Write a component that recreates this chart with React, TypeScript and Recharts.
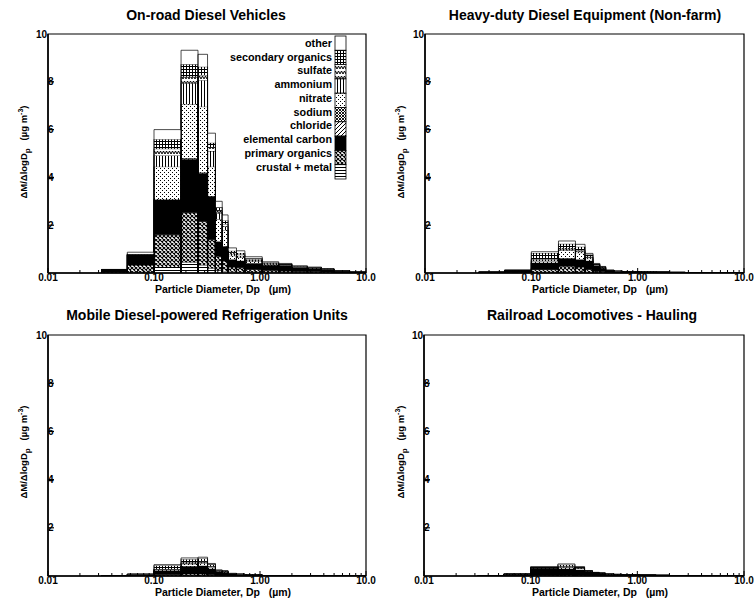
import React from 'react';
import { ComposedChart, Area, XAxis, YAxis, Legend, ReferenceArea } from 'recharts';

// particle-size bin edges (µm)
const binEdges = [0.032, 0.056, 0.1, 0.18, 0.26, 0.32, 0.38, 0.44, 0.5, 0.6, 0.72, 1.05, 1.5, 2.0, 2.8, 3.8, 5.0, 7.0, 10.0];

// stacking order, bottom to top
const componentKeys = ['crustal', 'primaryOrg', 'ec', 'chloride', 'sodium', 'nitrate', 'ammonium', 'sulfate', 'secondaryOrg', 'other'];
const componentLabels = ['crustal + metal', 'primary organics', 'elemental carbon', 'chloride', 'sodium', 'nitrate', 'ammonium', 'sulfate', 'secondary organics', 'other'];

const xMajorTicks = [0.01, 0.1, 1, 10];
const xMajorLabels = ['0.01', '0.10', '1.00', '10.0'];
const xMinorTicks = [0.02, 0.03, 0.04, 0.05, 0.06, 0.07, 0.08, 0.09, 0.2, 0.3, 0.4, 0.5, 0.6, 0.7, 0.8, 0.9, 2, 3, 4, 5, 6, 7, 8, 9];
const yTicks = [2, 4, 6, 8, 10];

const panelTitles = [
  'On-road Diesel Vehicles',
  'Heavy-duty Diesel Equipment (Non-farm)',
  'Mobile Diesel-powered Refrigeration Units',
  'Railroad Locomotives - Hauling',
];

// each row: one bin; values per component (crustal, primary org, EC, chloride, sodium, nitrate, ammonium, sulfate, secondary org, other)
const onRoadBins = [
  [0.005, 0.025, 0.10, 0.002, 0.002, 0.004, 0.002, 0.002, 0.003, 0.005],
  [0.03, 0.30, 0.42, 0.005, 0.005, 0.01, 0.01, 0.01, 0.01, 0.07],
  [0.25, 1.35, 1.45, 0.02, 0.03, 1.35, 0.47, 0.28, 0.40, 0.40],
  [0.45, 2.07, 2.24, 0.02, 0.02, 2.27, 0.87, 0.27, 0.52, 0.59],
  [0.33, 1.82, 2.02, 0.02, 0.02, 2.75, 1.11, 0.21, 0.35, 0.52],
  [0.20, 1.20, 1.80, 0.01, 0.01, 1.23, 0.65, 0.15, 0.20, 0.40],
  [0.12, 0.58, 0.60, 0.01, 0.01, 0.93, 0.25, 0.10, 0.15, 0.25],
  [0.08, 0.42, 0.60, 0.01, 0.01, 0.68, 0.15, 0.10, 0.15, 0.23],
  [0.05, 0.20, 0.30, 0.01, 0.01, 0.15, 0.08, 0.06, 0.07, 0.12],
  [0.04, 0.18, 0.28, 0.005, 0.005, 0.14, 0.07, 0.05, 0.07, 0.09],
  [0.03, 0.12, 0.25, 0.005, 0.005, 0.07, 0.06, 0.04, 0.04, 0.06],
  [0.03, 0.07, 0.22, 0.005, 0.005, 0.03, 0.03, 0.02, 0.03, 0.03],
  [0.02, 0.06, 0.22, 0.005, 0.005, 0.02, 0.02, 0.01, 0.02, 0.02],
  [0.02, 0.04, 0.16, 0.005, 0.005, 0.02, 0.01, 0.01, 0.015, 0.015],
  [0.015, 0.035, 0.13, 0.005, 0.005, 0.015, 0.01, 0.01, 0.01, 0.01],
  [0.01, 0.03, 0.09, 0.005, 0.005, 0.01, 0.01, 0.005, 0.01, 0.01],
  [0.01, 0.01, 0.05, 0.002, 0.002, 0.006, 0.005, 0.003, 0.005, 0.007],
  [0.005, 0.005, 0.025, 0.001, 0.001, 0.003, 0.003, 0.002, 0.002, 0.003],
];

const heavyDutyBins = [
  [0.001, 0.004, 0.025, 0, 0, 0.003, 0.002, 0.001, 0.002, 0.002],
  [0.005, 0.015, 0.08, 0.001, 0.001, 0.005, 0.003, 0.002, 0.005, 0.003],
  [0.02, 0.12, 0.28, 0.005, 0.005, 0.07, 0.05, 0.03, 0.26, 0.05],
  [0.03, 0.25, 0.32, 0.01, 0.01, 0.33, 0.05, 0.05, 0.17, 0.12],
  [0.03, 0.22, 0.30, 0.01, 0.01, 0.28, 0.05, 0.05, 0.15, 0.10],
  [0.02, 0.13, 0.35, 0.005, 0.005, 0.09, 0.05, 0.03, 0.09, 0.05],
  [0.01, 0.06, 0.23, 0.002, 0.002, 0.026, 0.02, 0.01, 0.02, 0.02],
  [0.01, 0.04, 0.15, 0.002, 0.002, 0.02, 0.015, 0.01, 0.015, 0.01],
  [0.005, 0.015, 0.07, 0.001, 0.001, 0.008, 0.005, 0.005, 0.005, 0.005],
  [0.004, 0.011, 0.045, 0.001, 0.001, 0.005, 0.004, 0.003, 0.003, 0.003],
  [0.003, 0.008, 0.035, 0.001, 0.001, 0.004, 0.002, 0.002, 0.002, 0.002],
  [0.003, 0.007, 0.027, 0.001, 0.001, 0.003, 0.002, 0.002, 0.002, 0.002],
  [0.002, 0.006, 0.022, 0, 0, 0.003, 0.002, 0.002, 0.002, 0.001],
  [0.002, 0.004, 0.016, 0, 0, 0.002, 0.002, 0.001, 0.002, 0.001],
  [0.001, 0.003, 0.01, 0, 0, 0.002, 0.001, 0.001, 0.001, 0.001],
  [0.001, 0.002, 0.008, 0, 0, 0.001, 0.001, 0.001, 0.001, 0],
  [0.001, 0.001, 0.005, 0, 0, 0.001, 0.001, 0, 0.001, 0],
  [0, 0.001, 0.003, 0, 0, 0, 0, 0, 0.001, 0],
];

const refrigerationBins = [
  [0, 0.001, 0.007, 0, 0, 0, 0, 0, 0.001, 0.001],
  [0.002, 0.008, 0.05, 0, 0, 0.005, 0.003, 0.002, 0.007, 0.003],
  [0.01, 0.04, 0.17, 0.002, 0.002, 0.046, 0.01, 0.01, 0.15, 0.03],
  [0.01, 0.07, 0.32, 0.002, 0.002, 0.096, 0.03, 0.03, 0.14, 0.05],
  [0.01, 0.07, 0.34, 0.002, 0.002, 0.106, 0.04, 0.03, 0.13, 0.05],
  [0.01, 0.04, 0.25, 0.002, 0.002, 0.066, 0.03, 0.02, 0.07, 0.03],
  [0.005, 0.025, 0.14, 0.001, 0.001, 0.028, 0.01, 0.01, 0.02, 0.01],
  [0.005, 0.02, 0.13, 0.001, 0.001, 0.023, 0.01, 0.01, 0.01, 0.01],
  [0.003, 0.01, 0.07, 0.001, 0.001, 0.008, 0.005, 0.004, 0.004, 0.004],
  [0.002, 0.008, 0.05, 0, 0, 0.006, 0.004, 0.003, 0.004, 0.003],
  [0.002, 0.005, 0.03, 0, 0, 0.004, 0.003, 0.002, 0.002, 0.002],
  [0.001, 0.002, 0.012, 0, 0, 0.002, 0.001, 0.001, 0.001, 0],
  [0.001, 0.002, 0.008, 0, 0, 0.001, 0.001, 0.001, 0.001, 0],
  [0.001, 0.001, 0.005, 0, 0, 0.001, 0.001, 0, 0.001, 0],
  [0, 0.001, 0.003, 0, 0, 0, 0, 0, 0.001, 0],
  [0, 0.001, 0.003, 0, 0, 0, 0, 0, 0.001, 0],
  [0, 0.001, 0.003, 0, 0, 0, 0, 0, 0.001, 0],
  [0, 0.001, 0.003, 0, 0, 0, 0, 0, 0.001, 0],
];

const railroadBins = [
  [0, 0.001, 0.008, 0, 0, 0, 0, 0, 0.001, 0],
  [0.001, 0.005, 0.065, 0, 0, 0.002, 0.002, 0.001, 0.003, 0.001],
  [0.005, 0.025, 0.29, 0.002, 0.002, 0.006, 0.01, 0.01, 0.02, 0.02],
  [0.005, 0.035, 0.26, 0.002, 0.002, 0.056, 0.02, 0.02, 0.07, 0.03],
  [0.005, 0.025, 0.22, 0.002, 0.002, 0.046, 0.02, 0.02, 0.03, 0.02],
  [0.004, 0.016, 0.16, 0.001, 0.001, 0.013, 0.008, 0.007, 0.006, 0.004],
  [0.003, 0.012, 0.11, 0.001, 0.001, 0.008, 0.005, 0.004, 0.003, 0.003],
  [0.003, 0.01, 0.095, 0.001, 0.001, 0.007, 0.004, 0.003, 0.003, 0.003],
  [0.002, 0.006, 0.06, 0, 0, 0.004, 0.003, 0.002, 0.002, 0.001],
  [0.002, 0.005, 0.052, 0, 0, 0.003, 0.002, 0.002, 0.002, 0.002],
  [0.002, 0.004, 0.045, 0, 0, 0.003, 0.002, 0.001, 0.002, 0.001],
  [0.001, 0.003, 0.03, 0, 0, 0.002, 0.001, 0.001, 0.001, 0.001],
  [0.001, 0.002, 0.022, 0, 0, 0.002, 0.001, 0.001, 0.001, 0],
  [0.001, 0.001, 0.01, 0, 0, 0.001, 0.001, 0, 0.001, 0],
  [0, 0.001, 0.003, 0, 0, 0, 0, 0, 0.001, 0],
  [0, 0.001, 0.003, 0, 0, 0, 0, 0, 0.001, 0],
  [0, 0.001, 0.003, 0, 0, 0, 0, 0, 0.001, 0],
  [0, 0.001, 0.003, 0, 0, 0, 0, 0, 0.001, 0],
];

// Build step rows: for each bin a zero point and a value point at its left edge, closed at the last edge.
function buildRows(bins: number[][]) {
  const rows: any[] = [];
  const zeroRow = (dp: number) => {
    const r: any = { dp };
    componentKeys.forEach((k) => (r[k] = 0));
    return r;
  };
  bins.forEach((vals, i) => {
    rows.push(zeroRow(binEdges[i]));
    const r: any = { dp: binEdges[i] };
    componentKeys.forEach((k, j) => (r[k] = vals[j]));
    rows.push(r);
  });
  rows.push(zeroRow(binEdges[bins.length]));
  return rows;
}

const FONT = '"Liberation Sans", Arial, Helvetica, sans-serif';

const XTick = (props: any) => {
  const { x, y, payload } = props;
  const v = payload.value;
  const mi = xMajorTicks.findIndex((m) => Math.abs(m - v) < 1e-9);
  const major = mi >= 0;
  return (
    <g>
      <line x1={x} x2={x} y1={y} y2={y - (major ? 5 : 3)} stroke="#000" strokeWidth={1} />
      {major && (
        <text x={x} y={y + 8} textAnchor="middle" fontSize={10} fontWeight="bold" fontFamily={FONT} fill="#000">
          {xMajorLabels[mi]}
        </text>
      )}
    </g>
  );
};

const YTick = (props: any) => {
  const { x, y, payload } = props;
  const v = payload.value;
  return (
    <g>
      {v < 10 && <line x1={x} x2={x + 6} y1={y} y2={y} stroke="#000" strokeWidth={1.2} />}
      <text x={v >= 10 ? x - 1 : x + 5.5} y={y + 3.5} textAnchor="end" fontSize={10} fontWeight="bold" fontFamily={FONT} fill="#000">
        {v}
      </text>
    </g>
  );
};

const renderLegend = () => {
  const order = [...componentKeys].reverse();
  const labels = [...componentLabels].reverse();
  return (
    <svg width={134} height={148} style={{ display: 'block' }}>
      {order.map((k, i) => (
        <g key={k}>
          <rect x={121} y={1 + i * 14.3} width={11} height={14.3} fill={`url(#pat-${k})`} stroke="#000" strokeWidth={0.8} />
          <text x={118} y={11.8 + i * 13.75} textAnchor="end" fontSize={10.8} fontWeight="bold" fontFamily={FONT} fill="#000">
            {labels[i]}
          </text>
        </g>
      ))}
    </svg>
  );
};

type PanelProps = {
  title: string;
  bins: number[][];
  left: number;
  top: number;
  plotLeft: number;
  plotRight: number;
  plotTop: number;
  plotBottom: number;
  titleX: number;
  showLegend?: boolean;
};

const Panel = ({ title, bins, left, top, plotLeft, plotRight, plotTop, plotBottom, titleX, showLegend }: PanelProps) => {
  const rows = buildRows(bins);
  const W = 377;
  const H = 300;
  return (
    <div style={{ position: 'absolute', left, top, width: W, height: H }}>
      <ComposedChart width={W} height={H} data={rows} margin={{ top: plotTop, right: W - plotRight, left: 0, bottom: 0 }}>
        <XAxis
          dataKey="dp"
          type="number"
          scale="log"
          domain={[0.01, 10]}
          allowDataOverflow
          ticks={[...xMajorTicks, ...xMinorTicks]}
          interval={0}
          tickSize={0}
          tickMargin={0}
          tickLine={false}
          height={H - plotBottom}
          axisLine={{ stroke: '#000', strokeWidth: 1.5 }}
          tick={<XTick />}
        />
        <YAxis
          type="number"
          domain={[0, 10]}
          allowDataOverflow
          ticks={yTicks}
          interval={0}
          tickSize={0}
          tickMargin={0}
          tickLine={false}
          width={plotLeft}
          axisLine={{ stroke: '#000', strokeWidth: 1.5 }}
          tick={<YTick />}
        />
        {componentKeys.map((k) => (
          <Area
            key={k}
            dataKey={k}
            stackId="s"
            type="stepAfter"
            fill={`url(#pat-${k})`}
            fillOpacity={1}
            stroke="#000"
            strokeWidth={0.7}
            dot={false}
            activeDot={false}
            isAnimationActive={false}
          />
        ))}
        <ReferenceArea x1={0.01} x2={10} y1={0} y2={10} fill="none" stroke="#000" strokeWidth={1.2} />
        {showLegend && (
          <Legend
            layout="horizontal"
            verticalAlign="middle"
            align="center"
            content={renderLegend}
            wrapperStyle={{ left: 214, top: 35, width: 134, height: 148 }}
          />
        )}
      </ComposedChart>
      <div
        style={{
          position: 'absolute',
          left: titleX - 200,
          top: 7,
          width: 400,
          textAlign: 'center',
          fontSize: 14,
          lineHeight: '17px',
          fontWeight: 'bold',
          fontFamily: FONT,
          whiteSpace: 'nowrap',
        }}
      >
        {title}
      </div>
      <div
        style={{
          position: 'absolute',
          left: 223 - 100,
          top: plotBottom + 10,
          width: 200,
          textAlign: 'center',
          fontSize: 10.5,
          lineHeight: '12px',
          fontWeight: 'bold',
          fontFamily: FONT,
          whiteSpace: 'pre',
        }}
      >
        {'Particle Diameter, Dp   (\u00b5m)'}
      </div>
      <div
        style={{
          position: 'absolute',
          left: 24 - 100,
          top: 152 - 7,
          width: 200,
          height: 14,
          textAlign: 'center',
          fontSize: 9.5,
          lineHeight: '14px',
          fontWeight: 'bold',
          fontFamily: FONT,
          whiteSpace: 'pre',
          transform: 'rotate(-90deg)',
        }}
      >
        {'\u0394M/\u0394logD'}
        <span style={{ fontSize: 8, position: 'relative', top: 3 }}>p</span>
        {'   (\u00b5g m'}
        <span style={{ fontSize: 7, position: 'relative', top: -4 }}>-3</span>
        {')'}
      </div>
    </div>
  );
};

const PatternDefs = () => (
  <svg width={0} height={0} style={{ position: 'absolute', left: 0, top: 0 }}>
    <defs>
      <pattern id="pat-crustal" patternUnits="userSpaceOnUse" width={4} height={3}>
        <rect width={4} height={3} fill="#fff" />
        <rect width={4} height={1} fill="#000" />
      </pattern>
      <pattern id="pat-primaryOrg" patternUnits="userSpaceOnUse" width={4} height={4}>
        <rect width={4} height={4} fill="#fff" />
        <path d="M0,0L4,4M4,0L0,4" stroke="#000" strokeWidth={1.1} />
      </pattern>
      <pattern id="pat-ec" patternUnits="userSpaceOnUse" width={4} height={4}>
        <rect width={4} height={4} fill="#000" />
      </pattern>
      <pattern id="pat-chloride" patternUnits="userSpaceOnUse" width={4} height={4}>
        <rect width={4} height={4} fill="#fff" />
        <path d="M-1,1L1,-1M0,4L4,0M3,5L5,3" stroke="#000" strokeWidth={1} />
      </pattern>
      <pattern id="pat-sodium" patternUnits="userSpaceOnUse" width={3} height={3}>
        <rect width={3} height={3} fill="#fff" />
        <path d="M0,0L3,3M3,0L0,3" stroke="#000" strokeWidth={0.9} />
      </pattern>
      <pattern id="pat-nitrate" patternUnits="userSpaceOnUse" width={4} height={4}>
        <rect width={4} height={4} fill="#fff" />
        <rect x={0} y={0} width={1} height={1} fill="#000" />
        <rect x={2} y={2} width={1} height={1} fill="#000" />
      </pattern>
      <pattern id="pat-ammonium" patternUnits="userSpaceOnUse" width={3} height={4}>
        <rect width={3} height={4} fill="#fff" />
        <rect x={0} width={1} height={4} fill="#000" />
      </pattern>
      <pattern id="pat-sulfate" patternUnits="userSpaceOnUse" width={6} height={5}>
        <rect width={6} height={5} fill="#fff" />
        <path d="M0,4L1.5,1L3,4L4.5,1L6,4" fill="none" stroke="#000" strokeWidth={1} />
      </pattern>
      <pattern id="pat-secondaryOrg" patternUnits="userSpaceOnUse" width={3} height={3}>
        <rect width={3} height={3} fill="#fff" />
        <rect width={3} height={1} fill="#000" />
        <rect width={1} height={3} fill="#000" />
      </pattern>
      <pattern id="pat-other" patternUnits="userSpaceOnUse" width={4} height={4}>
        <rect width={4} height={4} fill="#fff" />
      </pattern>
    </defs>
  </svg>
);

export default function App() {
  return (
    <div style={{ position: 'absolute', left: 0, top: 0, width: 754, height: 599, background: '#fff', fontFamily: FONT }}>
      <PatternDefs />
      <Panel title={panelTitles[0]} bins={onRoadBins} left={0} top={0} plotLeft={48} plotRight={366} plotTop={34} plotBottom={273} titleX={206} showLegend />
      <Panel title={panelTitles[1]} bins={heavyDutyBins} left={377} top={0} plotLeft={48} plotRight={367} plotTop={34} plotBottom={273} titleX={208} />
      <Panel title={panelTitles[2]} bins={refrigerationBins} left={0} top={300} plotLeft={48} plotRight={366} plotTop={35} plotBottom={276} titleX={207} />
      <Panel title={panelTitles[3]} bins={railroadBins} left={377} top={300} plotLeft={47} plotRight={367} plotTop={35} plotBottom={276} titleX={215} />
    </div>
  );
}
